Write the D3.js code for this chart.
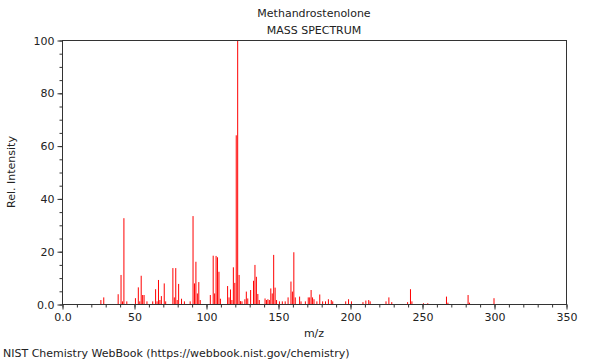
<!DOCTYPE html>
<html><head><meta charset="utf-8">
<script src="https://cdn.jsdelivr.net/npm/d3@7"></script>
<style>body{margin:0;background:#fff;} text{font-family:"DejaVu Sans",sans-serif;}</style>
</head><body>
<svg id="c" width="600" height="360"></svg>
<script>
const titleLines = ["Methandrostenolone", "MASS SPECTRUM"];
const mz = [27,29,39,41,42,43,45,51,53,54,55,56,57,59,63,65,66,67,68,69,71,72,77,78,79,80,81,83,85,89,
  91,92,93,94,95,96,103,105,106,107,108,109,110,115,116,117,118,119,120,121,122,123,124,125,127,128,129,131,
  133,134,135,136,137,141,142,143,144,145,146,147,148,149,151,153,155,157,159,160,161,162,165,166,169,
  171,172,173,174,175,177,179,181,183,185,187,188,197,199,201,209,211,213,214,225,227,229,240,242,243,
  251,254,267,268,282,283,300];
const intensity = [1.5,2.5,3.7,11,1,32.5,1,2.2,6.3,1,10.7,3.4,3.4,1,1,5.6,1,9.1,1.5,3,7.8,1,13.6,2.5,13.6,1.5,7.6,2,1,1,
  33.3,7.8,16,4,8.3,1.5,3.4,18.3,4,18.2,17.7,12.2,2,6.8,2.5,5.5,1.5,13.9,8,63.9,100,11,1.1,1,1.8,4.7,2.1,5.3,
  8.8,14.8,10.3,3.8,1.5,2.1,1.5,1.8,1.5,5.9,4,18.6,6.2,1.5,1,1,1,2.5,8.5,4.7,19.6,2.5,2.8,1,1,
  2.5,2.5,5.3,2.5,1.8,1,3.6,1,1,1.8,1.5,1,1,1.8,1,0.7,1.3,1.5,1,1,2.5,0.7,0.7,5.6,1,
  0.3,0.3,2.8,0.5,3.4,0.5,2.2];
const xTicks = [0,50,100,150,200,250,300,350];
const xTickLabels = ["0.0","50","100","150","200","250","300","350"];
const yTicks = [0,20,40,60,80,100];
const yTickLabels = ["0.0","20","40","60","80","100"];
const xLabel = "m/z", yLabel = "Rel. Intensity";
const credit = "NIST Chemistry WebBook (https://webbook.nist.gov/chemistry)";

const svg = d3.select("#c");
const L=62, R=566, T=40, B=304;
const x = d3.scaleLinear().domain([0,350]).range([L,R]);
const y = d3.scaleLinear().domain([0,100]).range([B,T]);
const axisCol="#333", txtCol="#222";

// bars
svg.append("g").selectAll("line").data(mz.map((m,i)=>[m,intensity[i]])).join("line")
  .attr("x1",d=>x(d[0])).attr("x2",d=>x(d[0]))
  .attr("y1",y(0)).attr("y2",d=>y(d[1]))
  .attr("stroke","#ff0000").attr("stroke-width",1);

// frame
svg.append("rect").attr("x",L+0.5).attr("y",T+0.5).attr("width",R-L).attr("height",B-T)
  .attr("fill","none").attr("stroke",axisCol).attr("stroke-width",1);

// x axis
const xa = svg.append("g").attr("transform",`translate(0.5,${B+0.5})`);
xa.call(d3.axisBottom(x).tickValues(d3.range(0,351,10)).tickSize(3).tickFormat(""));
xa.call(g=>g.selectAll(".domain").remove());
const xb = svg.append("g").attr("transform",`translate(0.5,${B+0.5})`);
xb.call(d3.axisBottom(x).tickValues(xTicks).tickSize(5).tickPadding(4).tickFormat((d,i)=>xTickLabels[i]));
xb.call(g=>g.selectAll(".domain").remove());
[xa,xb].forEach(g=>{g.selectAll("line").attr("stroke",axisCol);
  g.selectAll("text").attr("fill",txtCol).style("font-size","11px").attr("font-family","DejaVu Sans");});

// y axis
const ya = svg.append("g").attr("transform",`translate(${L+0.5},0.5)`);
ya.call(d3.axisLeft(y).tickValues(d3.range(0,101,5)).tickSize(3).tickFormat(""));
ya.call(g=>g.selectAll(".domain").remove());
const yb = svg.append("g").attr("transform",`translate(${L+0.5},0.5)`);
yb.call(d3.axisLeft(y).tickValues(yTicks).tickSize(5).tickPadding(3).tickFormat((d,i)=>yTickLabels[i]));
yb.call(g=>g.selectAll(".domain").remove());
[ya,yb].forEach(g=>{g.selectAll("line").attr("stroke",axisCol);
  g.selectAll("text").attr("fill",txtCol).style("font-size","11px").attr("font-family","DejaVu Sans");});

// titles
svg.append("text").attr("x",(L+R)/2).attr("y",17).attr("text-anchor","middle")
  .attr("fill",txtCol).style("font-size","11px").text(titleLines[0]);
svg.append("text").attr("x",(L+R)/2).attr("y",34).attr("text-anchor","middle")
  .attr("fill",txtCol).style("font-size","11px").text(titleLines[1]);
svg.append("text").attr("x",(L+R)/2).attr("y",337).attr("text-anchor","middle")
  .attr("fill",txtCol).style("font-size","11px").text(xLabel);
svg.append("text").attr("transform",`translate(15,${(T+B)/2}) rotate(-90)`).attr("text-anchor","middle")
  .attr("fill",txtCol).style("font-size","11px").text(yLabel);
svg.append("text").attr("x",3).attr("y",357)
  .attr("fill",txtCol).style("font-size","11px").text(credit);
</script>
</body></html>
